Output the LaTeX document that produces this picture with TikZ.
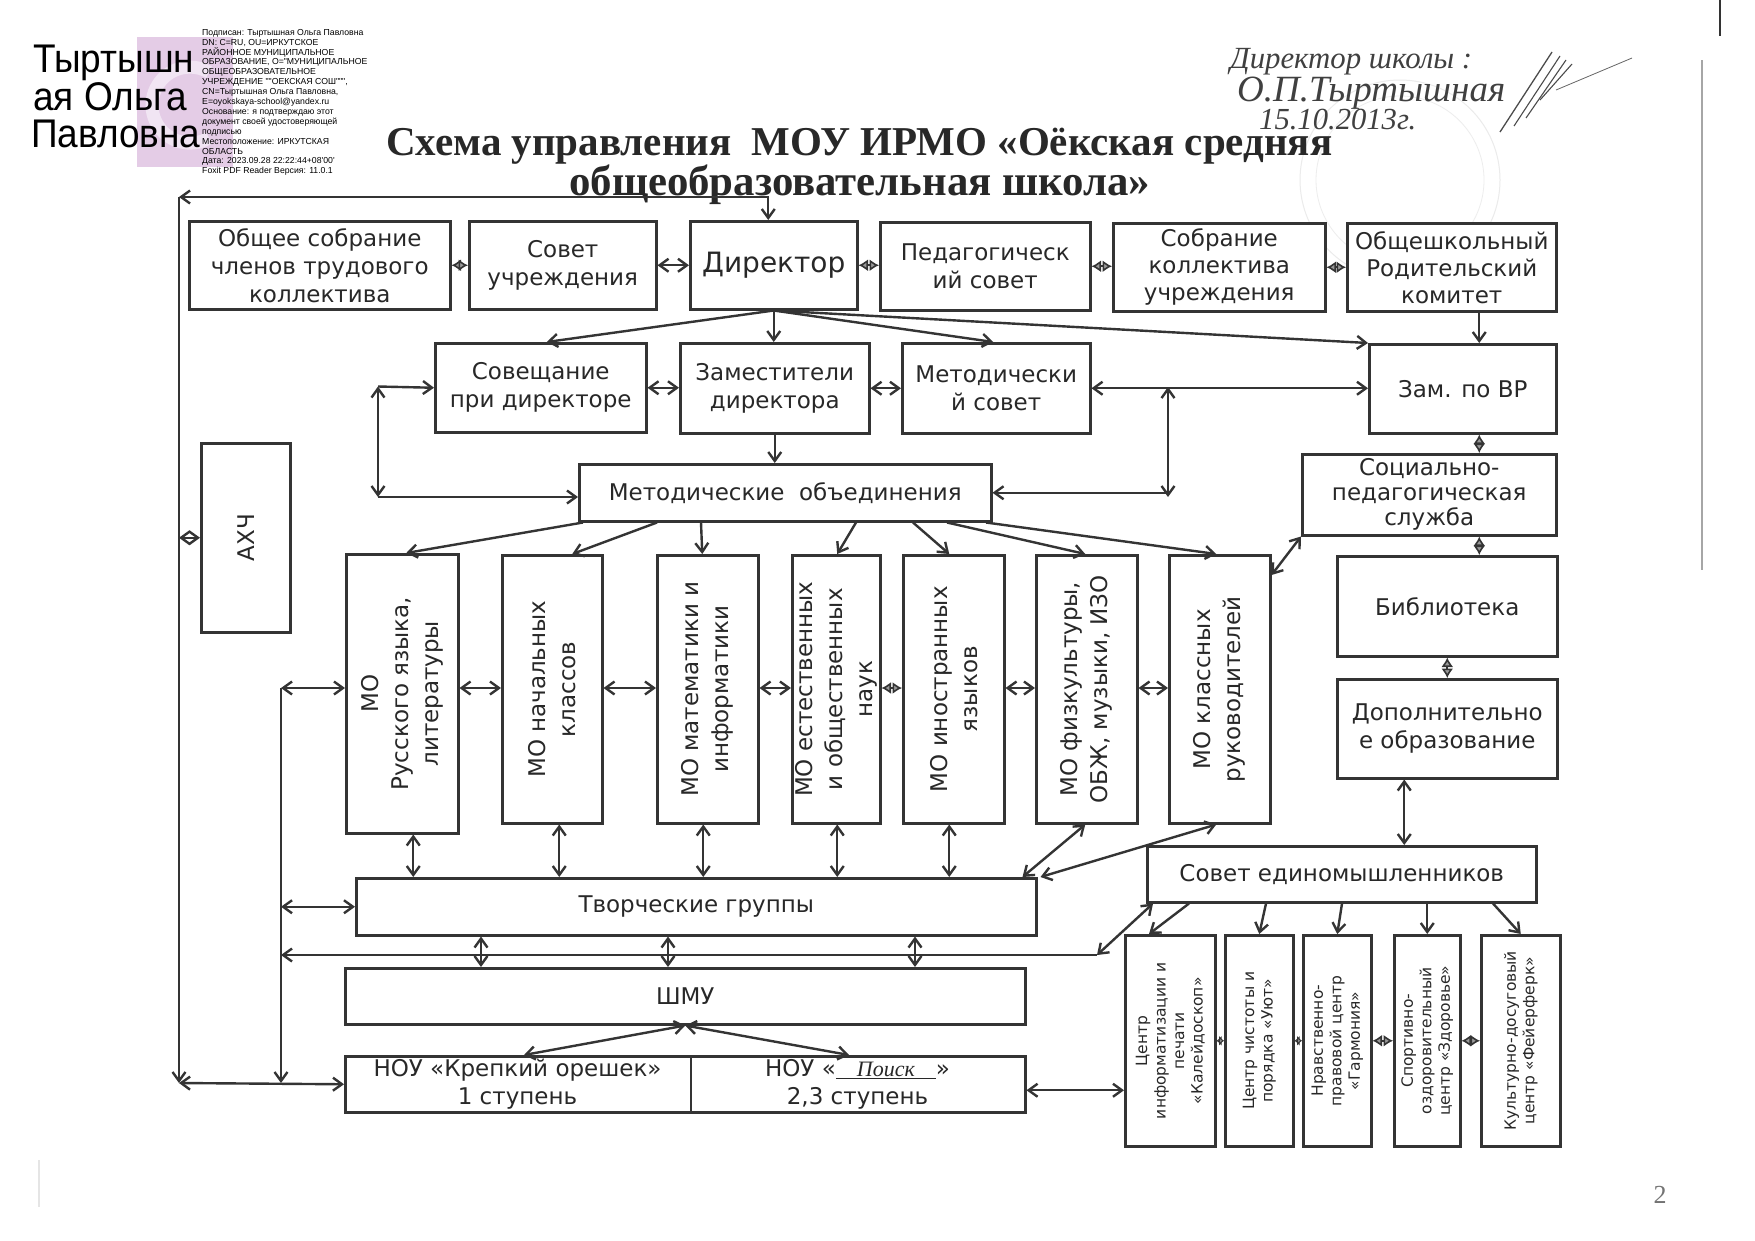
\documentclass[tikz,border=0pt]{standalone}
\usepackage{graphicx}
\usepackage{fontspec}
\setmainfont{DejaVu Sans}
\newfontfamily\lsans{Liberation Sans}
\newfontfamily\lsansn[FakeStretch=0.925]{Liberation Sans}
\newfontfamily\lserif{Liberation Serif}
\usetikzlibrary{arrows.meta,calc,shapes.geometric}
\definecolor{ink}{RGB}{52,52,52}
\definecolor{txt}{RGB}{40,40,40}
\definecolor{sigpurple}{RGB}{228,204,230}
\begin{document}
\begin{tikzpicture}[x=1pt,y=-1pt,
  box/.style={draw=ink, line width=2.5pt, fill=white, inner sep=0pt, align=center, text=txt, anchor=north west, font=\fontsize{23}{28}\selectfont},
  ln/.style={draw=ink, line width=2.4pt},
  >={Straight Barb[length=9pt,width=13pt]},
  dia/.style={draw=ink, line width=1.6pt, {Latex[length=9.5pt,width=12pt,fill=black!40]}-{Latex[length=9.5pt,width=12pt,fill=black!40]}},
  dias/.style={draw=ink, line width=1.6pt, {Latex[length=5pt,width=10pt,fill=black!40]}-{Latex[length=5pt,width=10pt,fill=black!40]}},
  vtxt/.style={rotate=90, align=center, text=txt, font=\fontsize{23}{30}\selectfont, inner sep=0pt},
  ctxt/.style={rotate=90, align=center, text=txt, font=\fontsize{15.5}{18.5}\selectfont, inner sep=0pt},
]
\useasboundingbox (0,0) rectangle (1755,1240);
\fill[white] (0,0) rectangle (1755,1240);

% ---------- signature block ----------
\fill[sigpurple] (137,37) rectangle (233,167);
\draw[white!50!sigpurple, line width=13pt] (209,138) arc[start angle=60, end angle=300, radius=38];
\node[anchor=base west, inner sep=0, font=\lsansn\fontsize{40}{40}\selectfont] (nm1) at (33,72) {Тыртышн};
\node[anchor=base west, inner sep=0, font=\lsansn\fontsize{40}{40}\selectfont] (nm2) at (33,110) {ая Ольга};
\node[anchor=base west, inner sep=0, font=\lsansn\fontsize{40}{40}\selectfont] (nm3) at (31,147) {Павловна};
\node[anchor=north west, inner sep=0, align=left, font=\lsans\fontsize{8.7}{9.9}\selectfont] (sig) at (202,29)
 {Подписан: Тыртышная Ольга Павловна\\DN: C=RU, OU=ИРКУТСКОЕ\\РАЙОННОЕ МУНИЦИПАЛЬНОЕ\\ОБРАЗОВАНИЕ, O="МУНИЦИПАЛЬНОЕ\\ОБЩЕОБРАЗОВАТЕЛЬНОЕ\\УЧРЕЖДЕНИЕ ""ОЕКСКАЯ СОШ""",\\CN=Тыртышная Ольга Павловна,\\E=oyokskaya-school@yandex.ru\\Основание: я подтверждаю этот\\документ своей удостоверяющей\\подписью\\Местоположение: ИРКУТСКАЯ\\ОБЛАСТЬ\\Дата: 2023.09.28 22:22:44+08'00'\\Foxit PDF Reader Версия: 11.0.1};

% ---------- stamp & handwriting ----------
\draw[black!8, line width=1pt] (1400,180) circle[radius=100];
\draw[black!7, line width=0.8pt] (1400,180) circle[radius=84];
\node[anchor=base west, inner sep=0, text=black!75] (hw1) at (1230,68) {\resizebox{242pt}{!}{\lserif\itshape\fontsize{30}{30}\selectfont Директор школы :}};
\node[anchor=base west, inner sep=0, text=black!75] (hw2) at (1237,101) {\resizebox{268pt}{!}{\lserif\itshape\fontsize{30}{30}\selectfont О.П.Тыртышная}};
\node[anchor=base west, inner sep=0, text=black!75] (hw3) at (1259,129) {\resizebox{157pt}{!}{\lserif\itshape\fontsize{30}{30}\selectfont 15.10.2013г.}};
\draw[black!70, line width=1.3pt] (1500,132) -- (1552,52);
\draw[black!70, line width=1.1pt] (1514,126) -- (1560,56);
\draw[black!70, line width=1.1pt] (1526,118) -- (1566,60);
\draw[black!70, line width=1.1pt] (1540,100) -- (1572,64);
\draw[black!60, line width=0.8pt] (1556,90) -- (1632,58);
\draw[black!35, line width=1.3pt] (1702,60) -- (1702,570);
\draw[black!80, line width=2pt] (1720,0) -- (1720,36);
\draw[black!10, line width=1.5pt] (39,1160) -- (39,1207);
\node[font=\lserif\fontsize{26}{26}\selectfont, text=black!55] (pg) at (1660,1195) {2};

% ---------- title ----------
\node[anchor=base west, inner sep=0, text=txt] (t1) at (386,155) {\resizebox{946pt}{!}{\lserif\bfseries\fontsize{40}{40}\selectfont Схема управления\ \ МОУ ИРМО «Оёкская средняя}};
\node[anchor=base west, inner sep=0, text=txt] (t2) at (569,195) {\resizebox{581pt}{!}{\lserif\bfseries\fontsize{40}{40}\selectfont общеобразовательная школа»}};

% ---------- boxes ----------
\node[box, minimum width=261pt, minimum height=88pt] (obs) at (188,220) {Общее собрание\\членов трудового\\коллектива};
\node[box, minimum width=187pt, minimum height=88pt] (sovu) at (468,220) {Совет\\учреждения};
\node[box, minimum width=167pt, minimum height=88pt, font=\fontsize{28}{32}\selectfont] (dir) at (689,220) {Директор};
\node[box, minimum width=210pt, minimum height=88pt] (ped) at (879,221) {Педагогическ\\ий совет};
\node[box, minimum width=212pt, minimum height=88pt, font=\fontsize{23}{27}\selectfont] (sobr) at (1112,222) {Собрание\\коллектива\\учреждения};
\node[box, minimum width=209pt, minimum height=88pt, font=\fontsize{23}{27}\selectfont] (rod) at (1346,222) {Общешкольный\\Родительский\\комитет};

\node[box, minimum width=211pt, minimum height=89pt] (sovesh) at (434,342) {Совещание\\при директоре};
\node[box, minimum width=189pt, minimum height=90pt] (zam) at (679,342) {Заместители\\директора};
\node[box, minimum width=188pt, minimum height=90pt] (metsov) at (901,342) {Методически\\й совет};
\node[box, minimum width=187pt, minimum height=89pt] (zamvr) at (1368,343) {Зам. по ВР};

\node[box, minimum width=412pt, minimum height=57pt] (metobj) at (578,463) {Методические\ \ объединения};
\node[box, minimum width=254pt, minimum height=81pt, font=\fontsize{23}{25}\selectfont] (soc) at (1301,453) {Социально-\\педагогическая\\служба};
\node[box, minimum width=89pt, minimum height=189pt] (ahch) at (200,442) {};
\node[vtxt] (ahcht) at (ahch.center) {АХЧ};

\node[box, minimum width=112pt, minimum height=279pt] (mo1) at (345,553) {};
\node[box, minimum width=100pt, minimum height=268pt] (mo2) at (501,554) {};
\node[box, minimum width=101pt, minimum height=268pt] (mo3) at (656,554) {};
\node[box, minimum width=88pt, minimum height=268pt] (mo4) at (791,554) {};
\node[box, minimum width=101pt, minimum height=268pt] (mo5) at (902,554) {};
\node[box, minimum width=101pt, minimum height=268pt] (mo6) at (1035,554) {};
\node[box, minimum width=101pt, minimum height=268pt] (mo7) at (1168,554) {};
\node[vtxt] (mo1t) at (mo1.center) {МО\\Русского языка,\\литературы};
\node[vtxt] (mo2t) at (mo2.center) {МО начальных\\классов};
\node[vtxt] (mo3t) at (mo3.center) {МО математики и\\информатики};
\node[vtxt] (mo4t) at (mo4.center) {МО естественных\\и общественных\\наук};
\node[vtxt] (mo5t) at (mo5.center) {МО иностранных\\языков};
\node[vtxt] (mo6t) at (mo6.center) {МО физкультуры,\\ОБЖ, музыки, ИЗО};
\node[vtxt] (mo7t) at (mo7.center) {МО классных\\руководителей};

\node[box, minimum width=220pt, minimum height=100pt] (bib) at (1336,555) {Библиотека};
\node[box, minimum width=220pt, minimum height=99pt] (dop) at (1336,678) {Дополнительно\\е образование};
\node[box, minimum width=389pt, minimum height=56pt] (soved) at (1146,845) {Совет единомышленников};

\node[box, minimum width=680pt, minimum height=57pt] (tg) at (355,877) {Творческие группы};
\node[box, minimum width=680pt, minimum height=56pt] (shmu) at (344,967) {ШМУ};
\node[box, minimum width=680pt, minimum height=56pt] (nou) at (344,1055) {};
\draw[ln] ($(nou.north west)+(347,0)$) -- ($(nou.south west)+(347,0)$);
\node[align=center, text=txt, font=\fontsize{23}{28}\selectfont, inner sep=0] (nou1t) at ($(nou.west)+(173.5,0)$) {НОУ «Крепкий орешек»\\1 ступень};
\node[align=center, text=txt, font=\fontsize{23}{28}\selectfont, inner sep=0] (nou2t) at ($(nou.west)+(513.5,0)$) {НОУ «\underline{\makebox[100pt]{\lserif\itshape\fontsize{22}{22}\selectfont Поиск}}»\\2,3 ступень};

\node[box, minimum width=90pt, minimum height=211pt] (c1) at (1124,934) {};
\node[box, minimum width=68pt, minimum height=211pt] (c2) at (1224,934) {};
\node[box, minimum width=68pt, minimum height=211pt] (c3) at (1302,934) {};
\node[box, minimum width=66pt, minimum height=211pt] (c4) at (1393,934) {};
\node[box, minimum width=79pt, minimum height=211pt] (c5) at (1480,934) {};
\node[ctxt] (c1t) at (c1.center) {Центр\\информатизации и\\печати\\«Калейдоскоп»};
\node[ctxt] (c2t) at (c2.center) {Центр чистоты и\\порядка «Уют»};
\node[ctxt] (c3t) at (c3.center) {Нравственно-\\правовой центр\\«Гармония»};
\node[ctxt] (c4t) at (c4.center) {Спортивно-\\оздоровительный\\центр «Здоровье»};
\node[ctxt] (c5t) at (c5.center) {Культурно-досуговый\\центр «Фейерферк»};

% ---------- connectors ----------
\coordinate (tl) at (179,197);
\coordinate (bl) at (179,1083);
\coordinate (dtop) at ($(dir.north)+(-5.5,0)$);
\draw[ln,<->] (dtop) |- (tl);
\draw[ln,->] (tl) -- (bl);
\draw[ln,<->] (bl) -- (nou.west);
\draw[ln,<->] (tl |- ahch.west) -- (ahch.west);

\coordinate (l2t) at (281,688);
\coordinate (l2b) at (281,1083);
\draw[ln,<->] (l2t) -- (l2t -| mo1.west);
\draw[ln,->] (l2t) -- (l2b);
\draw[ln,<->] (l2t |- tg.west) -- (tg.west);
\coordinate (hj) at (1097,955);
\draw[ln,<-] (l2t |- hj) -- (hj);
\draw[ln,<->] (hj) -- ($(soved.south west)+(7,0)$);

% row 1
\draw[dia] (obs.east) -- (sovu.west);
\draw[ln,<->] (sovu.east) -- (dir.west);
\draw[dia] (dir.east) -- (dir.east -| ped.west);
\draw[dia] (ped.east) -- (ped.east -| sobr.west);
\draw[dia] (sobr.east) -- (rod.west);

% director fan
\draw[ln,->] (dir.south) -- ($(sovesh.north)+(6,0)$);
\draw[ln,->] (dir.south) -- (dir.south |- zam.north);
\draw[ln,->] (dir.south) -- ($(metsov.north)+(-3,0)$);
\draw[ln,->] (dir.south) -- (zamvr.north west);
\coordinate (vrx) at ($(zamvr.north)+(16.5,0)$);
\draw[ln,->] (vrx |- rod.south) -- (vrx);

% row 2
\draw[ln,<->] (sovesh.east) -- (sovesh.east -| zam.west);
\draw[ln,<->] (zam.east) -- (zam.east -| metsov.west);
\draw[ln,<->] (metsov.east) -- (metsov.east -| zamvr.west);
\draw[ln,->] (zam.south) -- (zam.south |- metobj.north);

\coordinate (ll1) at (378,386.5);
\coordinate (ll2) at (378,497);
\draw[ln,<->] (ll1) -- (ll2);
\draw[ln,->] (ll1) -- (sovesh.west);
\draw[ln,->] (ll2) -- (ll2 -| metobj.west);

\coordinate (rl1) at (1168,387);
\coordinate (rl2) at (1168,497);
\draw[ln,<->] (rl1) -- (rl2);
\draw[ln,<-] (metobj.east) -- (metobj.east -| rl1);

% metobj fan
\draw[ln,->] ($(metobj.south west)+(5,0)$) -- ($(mo1.north)+(4,0)$);
\draw[ln,->] ($(metobj.south west)+(79,0)$) -- ($(mo2.north)+(20,0)$);
\draw[ln,->] ($(metobj.south west)+(123,0)$) -- ($(mo3.north)+(-5.5,0)$);
\draw[ln,->] ($(metobj.south west)+(278,0)$) -- ($(mo4.north)+(1,0)$);
\draw[ln,->] ($(metobj.south west)+(335,0)$) -- ($(mo5.north)+(-4.5,0)$);
\draw[ln,->] ($(metobj.south west)+(369,0)$) -- ($(mo6.north)+(-1.5,0)$);
\draw[ln,->] ($(metobj.south west)+(408,0)$) -- ($(mo7.north)+(-3.5,0)$);

% MO row
\draw[ln,<->] (mo1.east |- l2t) -- (mo2.west |- l2t);
\draw[ln,<->] (mo2.east |- l2t) -- (mo3.west |- l2t);
\draw[ln,<->] (mo3.east |- l2t) -- (mo4.west |- l2t);
\draw[dia] (mo4.east |- l2t) -- (mo5.west |- l2t);
\draw[ln,<->] (mo5.east |- l2t) -- (mo6.west |- l2t);
\draw[ln,<->] (mo6.east |- l2t) -- (mo7.west |- l2t);

% MO to TG
\coordinate (m1s) at ($(mo1.south)+(11,0)$);
\coordinate (m2s) at ($(mo2.south)+(7,0)$);
\coordinate (m3s) at ($(mo3.south)+(-4.5,0)$);
\coordinate (m4s) at ($(mo4.south)+(1,0)$);
\coordinate (m5s) at ($(mo5.south)+(-4.5,0)$);
\draw[ln,<->] (m1s) -- (m1s |- tg.north);
\draw[ln,<->] (m2s) -- (m2s |- tg.north);
\draw[ln,<->] (m3s) -- (m3s |- tg.north);
\draw[ln,<->] (m4s) -- (m4s |- tg.north);
\draw[ln,<->] (m5s) -- (m5s |- tg.north);
\draw[ln,<->] ($(mo6.south)+(-1.5,0)$) -- ($(tg.north east)+(-15,0)$);
\draw[ln,<->] ($(mo7.south)+(-3.5,0)$) -- ($(tg.north east)+(3,0)$);

% TG to SHMU
\coordinate (ts1) at ($(tg.south west)+(126,0)$);
\coordinate (ts2) at ($(tg.south west)+(313,0)$);
\coordinate (ts3) at ($(tg.south west)+(560,0)$);
\draw[ln,<->] (ts1) -- (ts1 |- shmu.north);
\draw[ln,<->] (ts2) -- (ts2 |- shmu.north);
\draw[ln,<->] (ts3) -- (ts3 |- shmu.north);

% SHMU to NOU
\draw[ln,<->] (shmu.south) -- ($(nou.north west)+(180,0)$);
\draw[ln,<->] (shmu.south) -- ($(nou.north west)+(505,0)$);
\coordinate (ne) at ($(nou.east)+(0,6)$);
\draw[ln,<->] (ne) -- (ne -| c1.west);

% right column
\coordinate (vrs) at ($(zamvr.south)+(16.5,0)$);
\draw[dia] (vrs) -- (vrs |- soc.north);
\coordinate (scs) at ($(soc.south)+(50,0)$);
\draw[dia] (scs) -- (scs |- bib.north);
\draw[dia] (bib.south) -- (dop.north);
\coordinate (dps) at ($(dop.south)+(-43,0)$);
\draw[ln,<->] (dps) -- (dps |- soved.north);
\draw[ln,<->] (soc.south west) -- ($(mo7.north east)+(0,21)$);

% soved to centres
\draw[ln,->] ($(soved.south west)+(43,0)$) -- ($(c1.north west)+(25,0)$);
\draw[ln,->] ($(soved.south west)+(120,0)$) -- (c2.north);
\draw[ln,->] ($(soved.south west)+(196,0)$) -- (c3.north);
\coordinate (c4n) at (c4.north);
\draw[ln,->] (c4n |- soved.south) -- (c4n);
\draw[ln,->] ($(soved.south west)+(347,0)$) -- (c5.north);

\draw[dias] (c1.east) -- (c2.west);
\draw[dias] (c2.east) -- (c3.west);
\draw[dia] (c3.east) -- (c4.west);
\draw[dia] (c4.east) -- (c5.west);
\end{tikzpicture}
\end{document}
